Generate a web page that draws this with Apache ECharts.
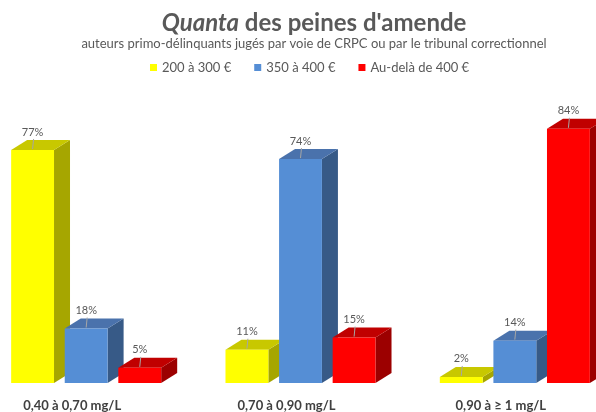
<!DOCTYPE html>
<html>
<head>
<meta charset="utf-8">
<script src="https://cdn.jsdelivr.net/npm/echarts@6/dist/echarts.min.js"></script>
<style>
  html, body { margin: 0; padding: 0; background: #ffffff; }
  #chart { width: 596px; height: 412px; }
</style>
</head>
<body>
<div id="chart"></div>
<script>
// Alcohol level bands (categories)
const categories = ['0,40 à 0,70 mg/L', '0,70 à 0,90 mg/L', '0,90 à ≥ 1 mg/L'];

// Fine amount brackets (series names)
const seriesNames = ['200 à 300 €', '350 à 400 €', 'Au-delà de 400 €'];

// Share of sentences per bracket, in %
const fine200to300 = [77, 11, 2];
const fine350to400 = [18, 74, 14];
const fineOver400 = [5, 15, 84];

const seriesValues = [fine200to300, fine350to400, fineOver400];

// Front / top / side shades for each bracket
const palette = [
  { front: '#FFFF00', top: '#C8C800', side: '#A6A600' },
  { front: '#558ED5', top: '#4A72AC', side: '#375A87' },
  { front: '#FF0000', top: '#C00000', side: '#9C0000' }
];

const DEPTH_X = 16;
const DEPTH_Y = 10;

function makeRenderer(sIdx) {
  return function (params, api) {
    const cat = api.value(0);
    const val = api.value(1);
    const topPt = api.coord([cat, val]);
    const basePt = api.coord([cat, 0]);
    const band = api.size([1, 0])[0];
    const barW = band * 0.2;
    const pitch = band * 0.25;
    const cx = topPt[0] + (sIdx - 1) * pitch;
    const x0 = cx - barW / 2;
    const x1 = cx + barW / 2;
    const yT = topPt[1];
    const yB = basePt[1];
    const c = palette[sIdx];
    return {
      type: 'group',
      children: [
        {
          type: 'polygon',
          shape: { points: [[x1, yT], [x1 + DEPTH_X, yT - DEPTH_Y], [x1 + DEPTH_X, yB - DEPTH_Y], [x1, yB]] },
          style: { fill: c.side }
        },
        {
          type: 'polygon',
          shape: { points: [[x0, yT], [x0 + DEPTH_X, yT - DEPTH_Y], [x1 + DEPTH_X, yT - DEPTH_Y], [x1, yT]] },
          style: { fill: c.top }
        },
        {
          type: 'rect',
          shape: { x: x0, y: yT, width: barW, height: yB - yT },
          style: { fill: c.front }
        },
        {
          type: 'line',
          shape: { x1: cx + 1, y1: yT - 11, x2: cx, y2: yT - 1 },
          style: { stroke: '#A6A6A6', lineWidth: 1 }
        },
        {
          type: 'text',
          style: {
            text: val + '%',
            x: cx,
            y: yT - 18,
            align: 'center',
            verticalAlign: 'middle',
            fill: '#595959',
            font: '11px Lato'
          }
        }
      ]
    };
  };
}

const chart = echarts.init(document.getElementById('chart'), null, { renderer: 'canvas' });

chart.setOption({
  backgroundColor: '#ffffff',
  animation: false,
  title: [
    {
      text: '{i|Quanta} des peines d\'amende',
      left: 309,
      top: 6,
      textAlign: 'center',
      textStyle: {
        fontFamily: 'Lato',
        fontSize: 24,
        fontWeight: 'bold',
        color: '#595959',
        rich: {
          i: { fontFamily: 'Lato', fontSize: 24, fontWeight: 'bold', fontStyle: 'italic', color: '#595959' }
        }
      }
    },
    {
      text: 'auteurs primo-délinquants jugés par voie de CRPC ou par le tribunal correctionnel',
      left: 309,
      top: 32,
      textAlign: 'center',
      textStyle: { fontFamily: 'Lato', fontSize: 13, fontWeight: 'normal', color: '#595959' }
    }
  ],
  legend: {
    data: seriesNames,
    left: 150,
    top: 61,
    padding: 0,
    icon: 'rect',
    itemWidth: 7,
    itemHeight: 7,
    itemGap: 23,
    textStyle: { fontFamily: 'Lato', fontSize: 13, color: '#595959' }
  },
  grid: { left: -21, right: -26, top: 80.4, bottom: 29, outerBoundsMode: 'none', containLabel: false },
  xAxis: {
    type: 'category',
    data: categories,
    axisLine: { show: false },
    axisTick: { show: false },
    axisLabel: {
      margin: 16,
      fontFamily: 'Lato',
      fontSize: 13,
      fontWeight: 'bold',
      color: '#404040',
      padding: [0, 28, 0, 0]
    }
  },
  yAxis: {
    type: 'value',
    min: 0,
    max: 100,
    show: false,
    splitLine: { show: false }
  },
  series: seriesValues.map(function (vals, s) {
    return {
      type: 'custom',
      name: seriesNames[s],
      itemStyle: { color: palette[s].front },
      renderItem: makeRenderer(s),
      encode: { x: 0, y: 1 },
      clip: false,
      data: vals.map(function (v, i) { return [i, v]; })
    };
  })
});
</script>
</body>
</html>
